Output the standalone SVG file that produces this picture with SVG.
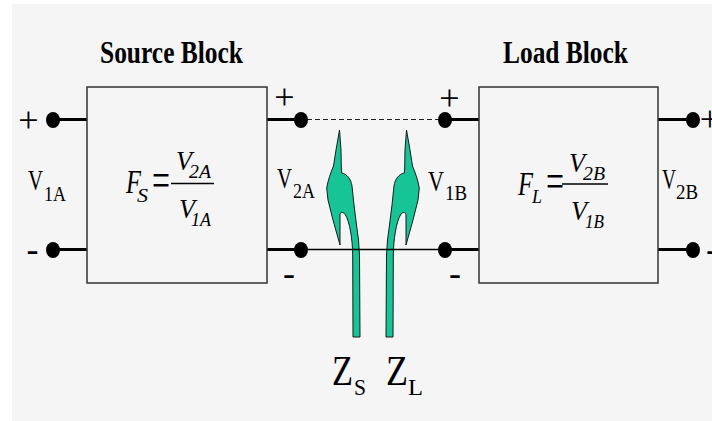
<svg xmlns="http://www.w3.org/2000/svg" width="712" height="421" viewBox="0 0 712 421">
<style>
.t{font-family:"Liberation Serif","Times New Roman",serif;fill:#000}
.b{font-weight:bold}
.i{font-style:italic}
.box{fill:none;stroke:#333;stroke-width:1.5}
.term{stroke:#000;stroke-width:3}
.dot{fill:#000}
.wire{stroke:#000;stroke-width:1.3;fill:none}
.dash{stroke:#222;stroke-width:1.2;stroke-dasharray:5 3;fill:none}
.arrow{fill:#17c496;stroke:#1a1a1a;stroke-width:1}
.fb{stroke:#000;stroke-width:1.5}
</style>
<defs>
<path id="zarrow" class="arrow" d="M339.5,130 L341,150 L341.3,168 L341.7,173 C347,174 351,179 352,186 L354,205 L356.5,225 L358.5,240 L359.5,255 L360,337 L353,337 L352.7,255 C352.5,240 350,222 345,214 C343,212 341,212 340,214 L340,245 L333,220 L328,200 L326.7,188 C328,180 331,172 333.5,166 L336,150 Z"/>
</defs>
<rect x="0" y="0" width="712" height="421" fill="#fff"/>
<rect x="12" y="4" width="700" height="417" fill="#f5f5f5"/>

<g id="zs-arrow"><use href="#zarrow"/></g>
<g id="zl-arrow"><use href="#zarrow" transform="matrix(-1,0,0,1,746,0)"/></g>

<g id="connectors">
<line class="term" x1="53" y1="119.5" x2="87" y2="119.5"/>
<line class="term" x1="53" y1="249.5" x2="87" y2="249.5"/>
<line class="term" x1="267" y1="119.5" x2="301" y2="119.5"/>
<line class="term" x1="267" y1="249.5" x2="301" y2="249.5"/>
<line class="term" x1="445" y1="119.5" x2="479" y2="119.5"/>
<line class="term" x1="445" y1="249.5" x2="479" y2="249.5"/>
<line class="term" x1="658" y1="119.5" x2="693" y2="119.5"/>
<line class="term" x1="658" y1="249.5" x2="693" y2="249.5"/>
<line class="dash" x1="307" y1="119.5" x2="439" y2="119.5"/>
<line class="wire" x1="301" y1="249.5" x2="445" y2="249.5"/>
<ellipse class="dot" cx="53" cy="120" rx="7" ry="8"/>
<ellipse class="dot" cx="53" cy="250" rx="7" ry="8"/>
<ellipse class="dot" cx="301" cy="120" rx="7" ry="8"/>
<ellipse class="dot" cx="301" cy="250" rx="7" ry="8"/>
<ellipse class="dot" cx="445" cy="120" rx="7" ry="8"/>
<ellipse class="dot" cx="445" cy="250" rx="7" ry="8"/>
<ellipse class="dot" cx="693" cy="120" rx="7" ry="8"/>
<ellipse class="dot" cx="693" cy="250" rx="7" ry="8"/>
</g>

<g id="source-block">
<rect class="box" x="87" y="87" width="180" height="196"/>
<text class="t b" x="100" y="63" font-size="32" textLength="143" lengthAdjust="spacingAndGlyphs">Source Block</text>
<text class="t i" x="126" y="193" font-size="33" textLength="15" lengthAdjust="spacingAndGlyphs">F</text>
<text class="t i" x="137" y="201.5" font-size="19" textLength="11" lengthAdjust="spacingAndGlyphs">S</text>
<text class="t" transform="translate(152,183.5) scale(1,1.4)" x="0" y="9.7" font-size="36" textLength="18" lengthAdjust="spacingAndGlyphs">=</text>
<line class="fb" x1="171" y1="183.5" x2="214" y2="183.5"/>
<text class="t i" x="176" y="170" font-size="28" textLength="16" lengthAdjust="spacingAndGlyphs">V</text>
<text class="t i" x="189" y="177.5" font-size="18" textLength="22" lengthAdjust="spacingAndGlyphs">2A</text>
<text class="t i" x="179" y="218" font-size="28" textLength="16" lengthAdjust="spacingAndGlyphs">V</text>
<text class="t i" x="191" y="226" font-size="18" textLength="20" lengthAdjust="spacingAndGlyphs">1A</text>
</g>

<g id="load-block">
<rect class="box" x="479" y="87" width="179" height="196"/>
<text class="t b" x="503" y="63" font-size="32" textLength="125" lengthAdjust="spacingAndGlyphs">Load Block</text>
<text class="t i" x="518" y="195" font-size="33" textLength="15" lengthAdjust="spacingAndGlyphs">F</text>
<text class="t i" x="532" y="203" font-size="19" textLength="10" lengthAdjust="spacingAndGlyphs">L</text>
<text class="t" transform="translate(546,184) scale(1,1.4)" x="0" y="9.7" font-size="36" textLength="18" lengthAdjust="spacingAndGlyphs">=</text>
<line class="fb" x1="562" y1="184" x2="608" y2="184"/>
<text class="t i" x="569" y="172" font-size="28" textLength="16" lengthAdjust="spacingAndGlyphs">V</text>
<text class="t i" x="583" y="179.5" font-size="18" textLength="22" lengthAdjust="spacingAndGlyphs">2B</text>
<text class="t i" x="571" y="220" font-size="28" textLength="16" lengthAdjust="spacingAndGlyphs">V</text>
<text class="t i" x="585" y="228" font-size="18" textLength="19" lengthAdjust="spacingAndGlyphs">1B</text>
</g>

<g id="port-labels">
<text class="t" x="28.5" y="131.5" font-size="36" text-anchor="middle">+</text>
<text class="t" x="32.5" y="261" font-size="36" text-anchor="middle">-</text>
<text class="t" x="284.5" y="109" font-size="36" text-anchor="middle">+</text>
<text class="t" x="289" y="285" font-size="36" text-anchor="middle">-</text>
<text class="t" x="449.5" y="110" font-size="36" text-anchor="middle">+</text>
<text class="t" x="455" y="285" font-size="36" text-anchor="middle">-</text>
<text class="t" x="710" y="131" font-size="36" text-anchor="middle">+</text>
<text class="t" x="712" y="261" font-size="36" text-anchor="middle">-</text>

<text class="t" x="28" y="190" font-size="30" textLength="15" lengthAdjust="spacingAndGlyphs">V</text>
<text class="t" x="44" y="201" font-size="20" textLength="22" lengthAdjust="spacingAndGlyphs">1A</text>
<text class="t" x="277" y="188" font-size="30" textLength="15" lengthAdjust="spacingAndGlyphs">V</text>
<text class="t" x="293" y="198" font-size="20" textLength="22" lengthAdjust="spacingAndGlyphs">2A</text>
<text class="t" x="428" y="191" font-size="30" textLength="16" lengthAdjust="spacingAndGlyphs">V</text>
<text class="t" x="445" y="200" font-size="20" textLength="22" lengthAdjust="spacingAndGlyphs">1B</text>
<text class="t" x="662" y="189" font-size="30" textLength="14" lengthAdjust="spacingAndGlyphs">V</text>
<text class="t" x="676" y="199" font-size="20" textLength="22" lengthAdjust="spacingAndGlyphs">2B</text>

<text class="t" x="332" y="385" font-size="42" textLength="21" lengthAdjust="spacingAndGlyphs">Z</text>
<text class="t" x="354" y="395" font-size="24" textLength="12" lengthAdjust="spacingAndGlyphs">S</text>
<text class="t" x="386" y="385" font-size="42" textLength="22" lengthAdjust="spacingAndGlyphs">Z</text>
<text class="t" x="408" y="395" font-size="24" textLength="15" lengthAdjust="spacingAndGlyphs">L</text>
</g>
</svg>
